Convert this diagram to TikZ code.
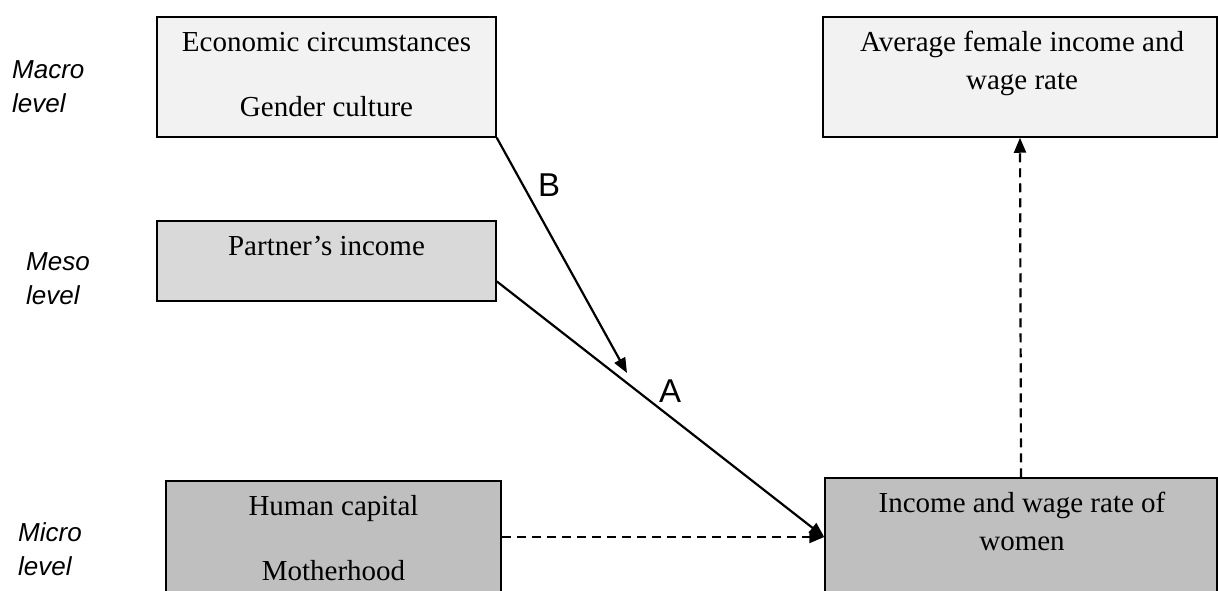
\documentclass[tikz,border=0pt]{standalone}
\usepackage{fontspec}
\setmainfont{Liberation Serif}
\newfontfamily\arialfont{Liberation Sans}
\usetikzlibrary{arrows.meta,calc}
\definecolor{macrofill}{HTML}{F2F2F2}
\definecolor{mesofill}{HTML}{D9D9D9}
\definecolor{microfill}{HTML}{BFBFBF}
\tikzset{
  box/.style={draw=black, line width=1.5pt, rectangle, inner sep=0pt},
  boxtext/.style={anchor=base, inner sep=0pt, font=\fontsize{29}{34}\selectfont},
  lvl/.style={anchor=base west, inner sep=0pt, font=\arialfont\itshape\fontsize{26}{30}\selectfont},
  lbl/.style={anchor=base, inner sep=0pt, font=\arialfont\fontsize{33}{38}\selectfont},
  conn/.style={line width=2.2pt, -{Triangle[length=15pt,width=12pt]}},
  dconn/.style={conn, dash pattern=on 9pt off 6pt}
}
\begin{document}
\begin{tikzpicture}[x=1pt,y=-1pt]
\useasboundingbox (0,0) rectangle (1218,591);
% boxes
\node[box, fill=macrofill, minimum width=339pt, minimum height=120pt] (econ) at (326.5,77) {};
\node[box, fill=mesofill, minimum width=339pt, minimum height=80pt] (partner) at (326.5,261) {};
\node[box, fill=microfill, minimum width=335pt, minimum height=130pt] (human) at (333.5,546) {};
\node[box, fill=macrofill, minimum width=394pt, minimum height=120pt] (avg) at (1020,77) {};
\node[box, fill=microfill, minimum width=392pt, minimum height=130pt] (inc) at (1021,543) {};
% box texts
\node[boxtext] (t1) at (326.5,52) {Economic circumstances};
\node[boxtext] (t2) at (326.5,117) {Gender culture};
\node[boxtext] (t3) at (326.5,255) {Partner’s income};
\node[boxtext] (t4) at (333.5,515) {Human capital};
\node[boxtext] (t5) at (333.5,580) {Motherhood};
\node[boxtext] (t6) at (1022,52) {Average female income and};
\node[boxtext] (t7) at (1022,90) {wage rate};
\node[boxtext] (t8) at (1022,512) {Income and wage rate of};
\node[boxtext] (t9) at (1022,550) {women};
% level labels
\node[lvl] (ma1) at (12,79) {Macro};
\node[lvl] (ma2) at (12,113) {level};
\node[lvl] (me1) at (26,270) {Meso};
\node[lvl] (me2) at (26,304) {level};
\node[lvl] (mi1) at (18,541) {Micro};
\node[lvl] (mi2) at (18,575) {level};
% connectors
\coordinate (btip) at (627,373);
\coordinate (astart) at ($(partner.north east)!0.75!(partner.south east)$);
\draw[conn] (econ.south east) -- (btip);
\draw[conn] (astart) -- (inc.west |- 0,537);
\draw[dconn] (human.east |- 0,537) -- (inc.west |- 0,537);
\draw[dconn] (inc.north) -- (avg.south);
\node[lbl] (lb) at (549,196) {B};
\node[lbl] (la) at (670,402) {A};
\end{tikzpicture}
\end{document}
